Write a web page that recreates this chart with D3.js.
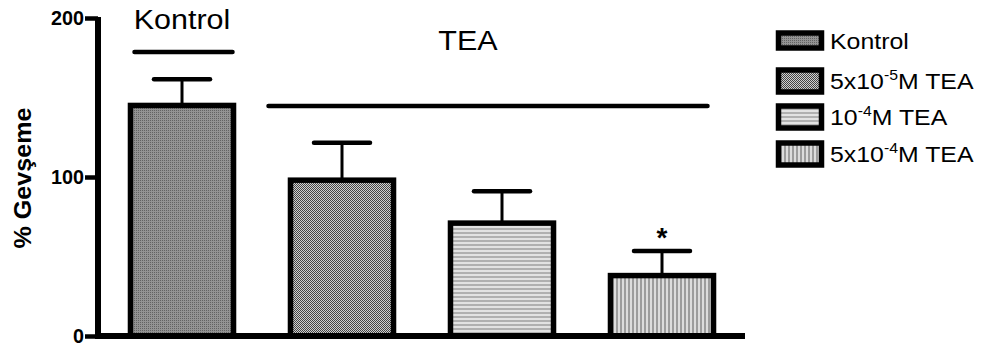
<!DOCTYPE html>
<html>
<head>
<meta charset="utf-8">
<script src="https://cdn.jsdelivr.net/npm/d3@7"></script>
<style>
  html, body { margin: 0; padding: 0; background: #fff; }
  svg { display: block; }
  text { font-family: Arial, "Liberation Sans", sans-serif; fill: #000; }
</style>
</head>
<body>
<svg id="chart" width="982" height="351"></svg>
<script>
// Relaxation (%) per group, mean and SEM
const groups = ["Kontrol", "5x10-5M TEA", "10-4M TEA", "5x10-4M TEA"];
const means = [145, 98, 71, 38];
const sems = [16.5, 23.5, 20, 15.5];
const significant = [false, false, false, true];
const yTicks = [0, 100, 200];
const patternIds = ["pDots", "pChecker", "pHoriz", "pVert"];

// Legend entries: base text, superscript, trailing text
const legendLabels = [
  { base: "Kontrol", sup: "", tail: "" },
  { base: "5x10", sup: "-5", tail: "M TEA" },
  { base: "10", sup: "-4", tail: "M TEA" },
  { base: "5x10", sup: "-4", tail: "M TEA" }
];

const svg = d3.select("#chart");
const stretch = 1.13; // the labels use a slightly wide face

// ---- fill patterns ----
const defs = svg.append("defs");
function pat(id, w, h, draw) {
  const p = defs.append("pattern").attr("id", id)
    .attr("patternUnits", "userSpaceOnUse").attr("width", w).attr("height", h);
  draw(p);
}
pat("pDots", 2, 2, p => {
  p.append("rect").attr("width", 2).attr("height", 2).attr("fill", "#939393");
  p.append("rect").attr("width", 1).attr("height", 1).attr("fill", "#626262");
});
pat("pChecker", 2, 2, p => {
  p.append("rect").attr("width", 2).attr("height", 2).attr("fill", "#d0d0d0");
  p.append("rect").attr("width", 1).attr("height", 1).attr("fill", "#444");
  p.append("rect").attr("x", 1).attr("y", 1).attr("width", 1).attr("height", 1).attr("fill", "#444");
});
pat("pHoriz", 4, 4, p => {
  p.append("rect").attr("width", 4).attr("height", 4).attr("fill", "#e2e2e2");
  p.append("rect").attr("width", 4).attr("height", 2).attr("fill", "#b0b0b0");
});
pat("pVert", 4, 4, p => {
  p.append("rect").attr("width", 4).attr("height", 4).attr("fill", "#dcdcdc");
  p.append("rect").attr("width", 2).attr("height", 4).attr("fill", "#9c9c9c");
});

// ---- scales ----
const x = d3.scaleBand().domain(groups).range([102, 742])
  .paddingInner(0.356).paddingOuter(0.178);
const y = d3.scaleLinear().domain([0, 200]).range([336, 18]);

// ---- bars ----
const bars = svg.append("g");
bars.selectAll("rect").data(groups).join("rect")
  .attr("x", d => x(d))
  .attr("width", x.bandwidth())
  .attr("y", (d, i) => y(means[i]))
  .attr("height", (d, i) => y(0) - y(means[i]))
  .attr("fill", (d, i) => `url(#${patternIds[i]})`)
  .attr("stroke", "#000").attr("stroke-width", 5.5);

// ---- error bars (upper only) ----
const err = svg.append("g").attr("stroke", "#000");
groups.forEach((g, i) => {
  const cx = x(g) + x.bandwidth() / 2;
  err.append("line").attr("x1", cx).attr("x2", cx)
    .attr("y1", y(means[i]) - 2).attr("y2", y(means[i] + sems[i]))
    .attr("stroke-width", 3);
  err.append("line").attr("x1", cx - 28).attr("x2", cx + 28)
    .attr("y1", y(means[i] + sems[i])).attr("y2", y(means[i] + sems[i]))
    .attr("stroke-width", 4.5).attr("stroke-linecap", "round");
  if (significant[i]) {
    svg.append("text").attr("x", cx).attr("y", y(means[i] + sems[i]) - 4)
      .attr("text-anchor", "middle").attr("font-size", 28).attr("font-weight", "bold")
      .text("*");
  }
});

// ---- axes ----
const yAxis = svg.append("g").attr("transform", "translate(98,0)")
  .call(d3.axisLeft(y).tickValues(yTicks).tickSize(13).tickPadding(1));
yAxis.select(".domain").attr("stroke", "#000").attr("stroke-width", 6)
  .attr("d", `M0,${y(0) + 3}V${y(200) - 1}`);
yAxis.selectAll(".tick line").attr("stroke", "#000").attr("stroke-width", 4.5);
yAxis.selectAll(".tick text").attr("font-size", 20).attr("font-weight", "bold")
  .attr("font-family", "Arial, 'Liberation Sans', sans-serif").attr("fill", "#000")
  .attr("textLength", d => String(d).length * 11)
  .attr("lengthAdjust", "spacingAndGlyphs");

const xAxis = svg.append("g").attr("transform", `translate(0,${y(0)})`)
  .call(d3.axisBottom(x).tickSize(0).tickFormat(""));
xAxis.select(".domain").attr("stroke", "#000").attr("stroke-width", 6)
  .attr("d", "M95,0H745");

// y-axis title
svg.append("text")
  .attr("transform", `translate(31,${(y(0) + y(200)) / 2 + 1}) rotate(-90)`)
  .attr("text-anchor", "middle").attr("font-size", 24).attr("font-weight", "bold")
  .attr("textLength", 141).attr("lengthAdjust", "spacingAndGlyphs")
  .text("% Gevşeme");

// ---- group brackets ----
const kx0 = x(groups[0]), kx1 = x(groups[0]) + x.bandwidth();
svg.append("line").attr("x1", kx0 + 4).attr("x2", kx1 - 1)
  .attr("y1", 52).attr("y2", 52)
  .attr("stroke", "#000").attr("stroke-width", 4.5).attr("stroke-linecap", "round");
svg.append("text")
  .attr("transform", `translate(${(kx0 + kx1) / 2},29) scale(${stretch},1)`)
  .attr("text-anchor", "middle").attr("font-size", 27).text("Kontrol");

const tx0 = x(groups[1]) - 22, tx1 = x(groups[3]) + x.bandwidth() - 6;
svg.append("line").attr("x1", tx0).attr("x2", tx1)
  .attr("y1", 106).attr("y2", 106)
  .attr("stroke", "#000").attr("stroke-width", 4.5).attr("stroke-linecap", "round");
svg.append("text")
  .attr("transform", `translate(${(tx0 + tx1) / 2 - 20},50) scale(${stretch},1)`)
  .attr("text-anchor", "middle").attr("font-size", 27).text("TEA");

// ---- legend ----
const legendRows = [
  { y: 33, h: 15 },
  { y: 70, h: 22 },
  { y: 106, h: 22 },
  { y: 143, h: 22 }
];
const legend = svg.append("g");
legendLabels.forEach((lab, i) => {
  const r = legendRows[i];
  legend.append("rect").attr("x", 778.5).attr("y", r.y)
    .attr("width", 43).attr("height", r.h)
    .attr("fill", `url(#${patternIds[i]})`)
    .attr("stroke", "#000").attr("stroke-width", 5.5);
  const t = legend.append("text")
    .attr("transform", `translate(830,${r.y + r.h / 2 + 8}) scale(${stretch},1)`)
    .attr("font-size", 22);
  t.append("tspan").text(lab.base);
  if (lab.sup) {
    t.append("tspan").attr("font-size", 14).attr("dy", -9).text(lab.sup);
    t.append("tspan").attr("dy", 9).text(lab.tail);
  }
});
</script>
</body>
</html>
